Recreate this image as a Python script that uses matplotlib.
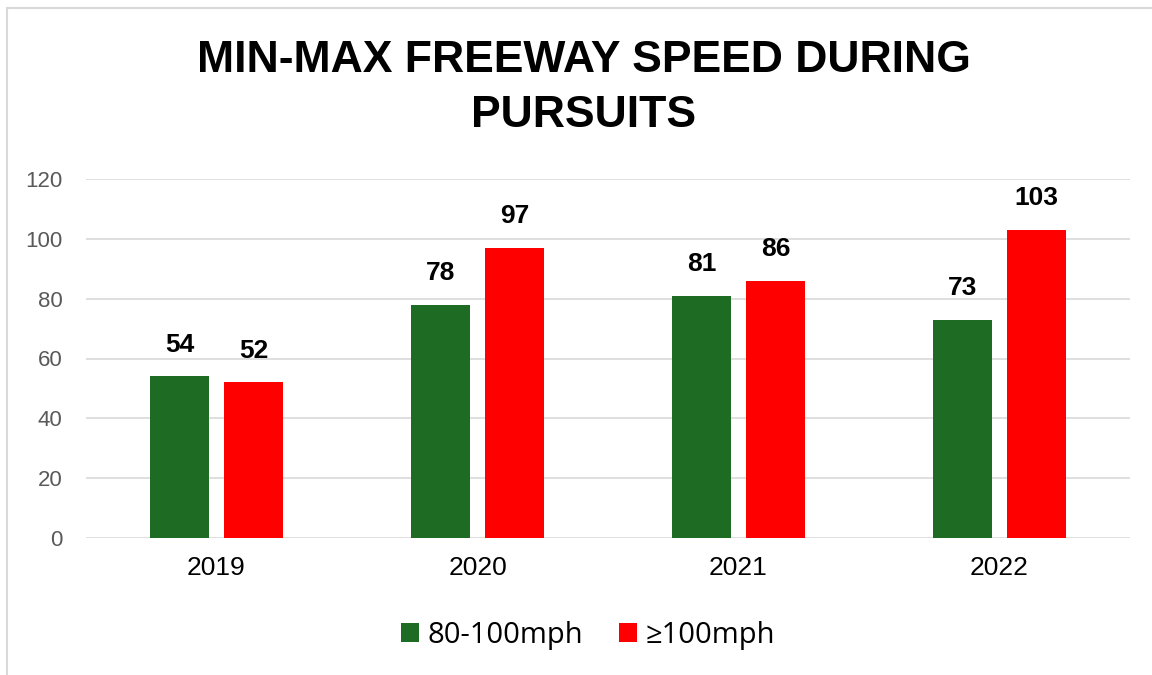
import matplotlib.pyplot as plt
import matplotlib.patches as mpatches
import numpy as np

years = ["2019", "2020", "2021", "2022"]
speed_80_100 = [54, 78, 81, 73]
speed_100_plus = [52, 97, 86, 103]
series_names = ["80-100mph", "\u2265100mph"]
y_ticks = [0, 20, 40, 60, 80, 100, 120]

green = "#1E6B24"
red = "#FF0000"

plt.rcParams["font.family"] = ["Liberation Sans", "DejaVu Sans"]

fig = plt.figure(figsize=(11.52, 6.75), dpi=100)
ax = fig.add_axes([86 / 1152, 1 - 538 / 675, (1130 - 86) / 1152, (538 - 179) / 675])

# cadre gris autour du graphique
fig.patches.append(mpatches.Rectangle((7 / 1152, -0.01), 1.1, 1 - 8 / 675 + 0.01,
                                      transform=fig.transFigure, fill=False,
                                      edgecolor="#D9D9D9", linewidth=1.5))

x = np.arange(len(years))
w = 0.226
off = 0.142
b1 = ax.bar(x - off, speed_80_100, w, color=green, label=series_names[0], zorder=3)
b2 = ax.bar(x + off, speed_100_plus, w, color=red, label=series_names[1], zorder=3)

for bars in (b1, b2):
    for rect in bars:
        h = rect.get_height()
        ax.annotate(f"{h:.0f}", (rect.get_x() + rect.get_width() / 2, h),
                    xytext=(0, 14), textcoords="offset points",
                    ha="center", va="bottom", fontsize=19, fontweight="bold", color="black")

ax.set_xlim(-0.5, 3.5)
ax.set_ylim(0, 120)
ax.set_yticks(y_ticks)
ax.set_xticks(x)
ax.set_xticklabels(years)
ax.grid(axis="y", color="#D9D9D9", linewidth=1.2, zorder=0)
for s in ax.spines.values():
    s.set_visible(False)
ax.tick_params(axis="y", length=0, pad=17, labelsize=16, labelcolor="#595959")
ax.tick_params(axis="x", length=0, pad=13, labelsize=19, labelcolor="black")

fig.text(584 / 1152, 1 - 88 / 675, "MIN-MAX FREEWAY SPEED DURING\nPURSUITS", ha="center", va="center",
         fontsize=32, fontweight="bold", linespacing=1.45)

fig.legend(handles=[b1, b2], labels=series_names, loc="center", bbox_to_anchor=(588 / 1152, 1 - 635 / 675),
           ncol=2, frameon=False, handlelength=0.62, handleheight=0.62,
           handletextpad=0.32, columnspacing=1.2,
           prop={"family": ["Open Sans", "DejaVu Sans"], "size": 21})

fig.savefig("out.png", dpi=100)
